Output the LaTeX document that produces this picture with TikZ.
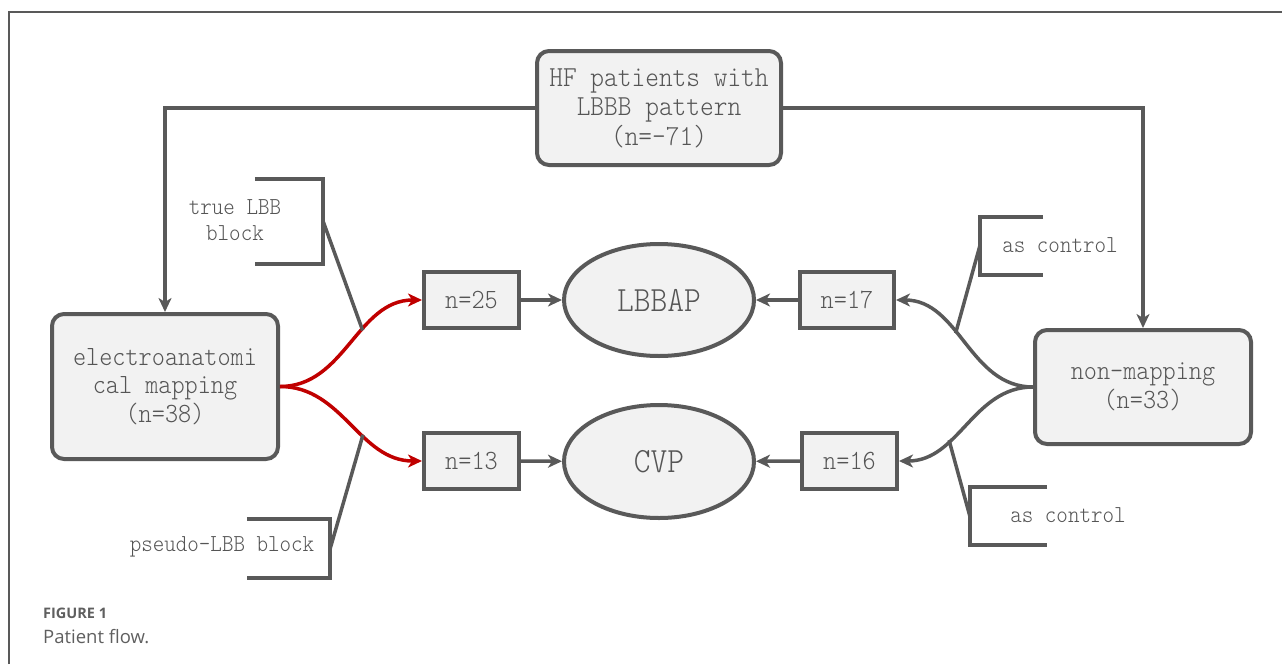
\documentclass[tikz,border=0pt]{standalone}
\usepackage{fontspec}
\newfontfamily\capfont{Open Sans}
\newfontfamily\dgmfont[FakeStretch=0.9]{Latin Modern Mono Light}
\usepackage{tikz}
\usetikzlibrary{arrows.meta,shapes.geometric}
\definecolor{lgray}{HTML}{595959}
\definecolor{boxfill}{HTML}{F2F2F2}
\definecolor{txtgray}{HTML}{555555}
\definecolor{redc}{HTML}{C00000}
\definecolor{capgray}{HTML}{5F5F5F}
\tikzset{
  box/.style={draw=lgray, line width=4pt, fill=boxfill, text=txtgray, align=center, inner sep=0pt,
    font=\dgmfont\fontsize{27.8}{28.5}\selectfont},
  rbox/.style={box, rounded corners=12pt},
  oval/.style={box, ellipse, font=\dgmfont\fontsize{35.5}{38}\selectfont},
  conn/.style={draw=lgray, line width=3.5pt},
  arr/.style={conn, -{Stealth[length=14pt,width=13pt,inset=4pt]}},
  redarr/.style={arr, draw=redc},
  lbl/.style={text=txtgray, align=center, inner sep=0pt, font=\dgmfont\fontsize{24.4}{26}\selectfont},
  brk/.style={inner sep=0pt}
}
\begin{document}
\begin{tikzpicture}[x=1pt,y=-1pt]
\useasboundingbox (0,0) rectangle (1282,664);
\draw[lgray, line width=1.2pt] (9,664) -- (9,12) -- (1282,12);

\node[rbox, minimum width=244, minimum height=114, font=\dgmfont\fontsize{29}{29.5}\selectfont] (hf) at (659,108) {HF patients with\\LBBB pattern\\(n=-71)};
\node[rbox, minimum width=226, minimum height=145] (ecm) at (165,386.5) {electroanatomi\\cal mapping\\(n=38)};
\node[rbox, minimum width=216, minimum height=114] (nm) at (1143,387) {non-mapping\\(n=33)};

\node[box, minimum width=95, minimum height=56] (n25) at (471.5,300) {n=25};
\node[box, minimum width=95, minimum height=56] (n13) at (471.5,461) {n=13};
\node[box, minimum width=94, minimum height=56] (n17) at (847,300) {n=17};
\node[box, minimum width=95, minimum height=56] (n16) at (849.5,461) {n=16};
\node[oval, minimum width=190, minimum height=112] (lbbap) at (659,300) {LBBAP};
\node[oval, minimum width=190, minimum height=113] (cvp) at (659,461.5) {CVP};

\draw[arr] (hf.west) -| (ecm.north);
\draw[arr] (hf.east) -| (nm.north);

\draw[redarr] (ecm.east) to[out=0,in=180] coordinate[pos=0.6] (ua) (n25.west);
\draw[redarr] (ecm.east) to[out=0,in=180] coordinate[pos=0.6] (la) (n13.west);
\draw[arr] (nm.west) to[out=180,in=0] coordinate[pos=0.58] (ub) (n17.east);
\draw[arr] (nm.west) to[out=180,in=0] coordinate[pos=0.65] (lb) (n16.east);

\draw[arr] (n25) -- (lbbap);
\draw[arr] (n13) -- (cvp);
\draw[arr] (n17) -- (lbbap);
\draw[arr] (n16) -- (cvp);

\node[brk, minimum width=68, minimum height=85] (tlbB) at (289,221.5) {};
\node[brk, minimum width=83, minimum height=59] (psB) at (288.5,548.5) {};
\node[brk, minimum width=63, minimum height=58] (ctlaB) at (1011.5,246) {};
\node[brk, minimum width=77, minimum height=58] (ctlbB) at (1008.5,516) {};

\draw[conn] (tlbB.north west) -| (tlbB.south east) -- (tlbB.south west);
\draw[conn] (psB.north west) -| (psB.south east) -- (psB.south west);
\draw[conn] (ctlaB.north east) -| (ctlaB.south west) -- (ctlaB.south east);
\draw[conn] (ctlbB.north east) -| (ctlbB.south west) -- (ctlbB.south east);

\draw[conn] (tlbB.east) -- (ua);
\draw[conn] (psB.east) -- (la);
\draw[conn] (ctlaB.west) -- (ub);
\draw[conn] (ctlbB.west) -- (lb);

\node[lbl] (tlbT) at (235,220) {true LBB\\block};
\node[lbl] (psT) at (222,547) {pseudo-LBB block};
\node[lbl] (ctlaT) at (1060,245) {as control};
\node[lbl] (ctlbT) at (1068,515) {as control};

\node[anchor=base west, inner sep=0pt, text=capgray, font=\capfont\bfseries\fontsize{14.5}{16}\selectfont] (fig) at (43,618) {FIGURE 1};
\node[anchor=base west, inner sep=0pt, text=capgray, font=\capfont\fontsize{18.5}{20}\selectfont] (cap) at (43,643) {Patient flow.};
\end{tikzpicture}
\end{document}
